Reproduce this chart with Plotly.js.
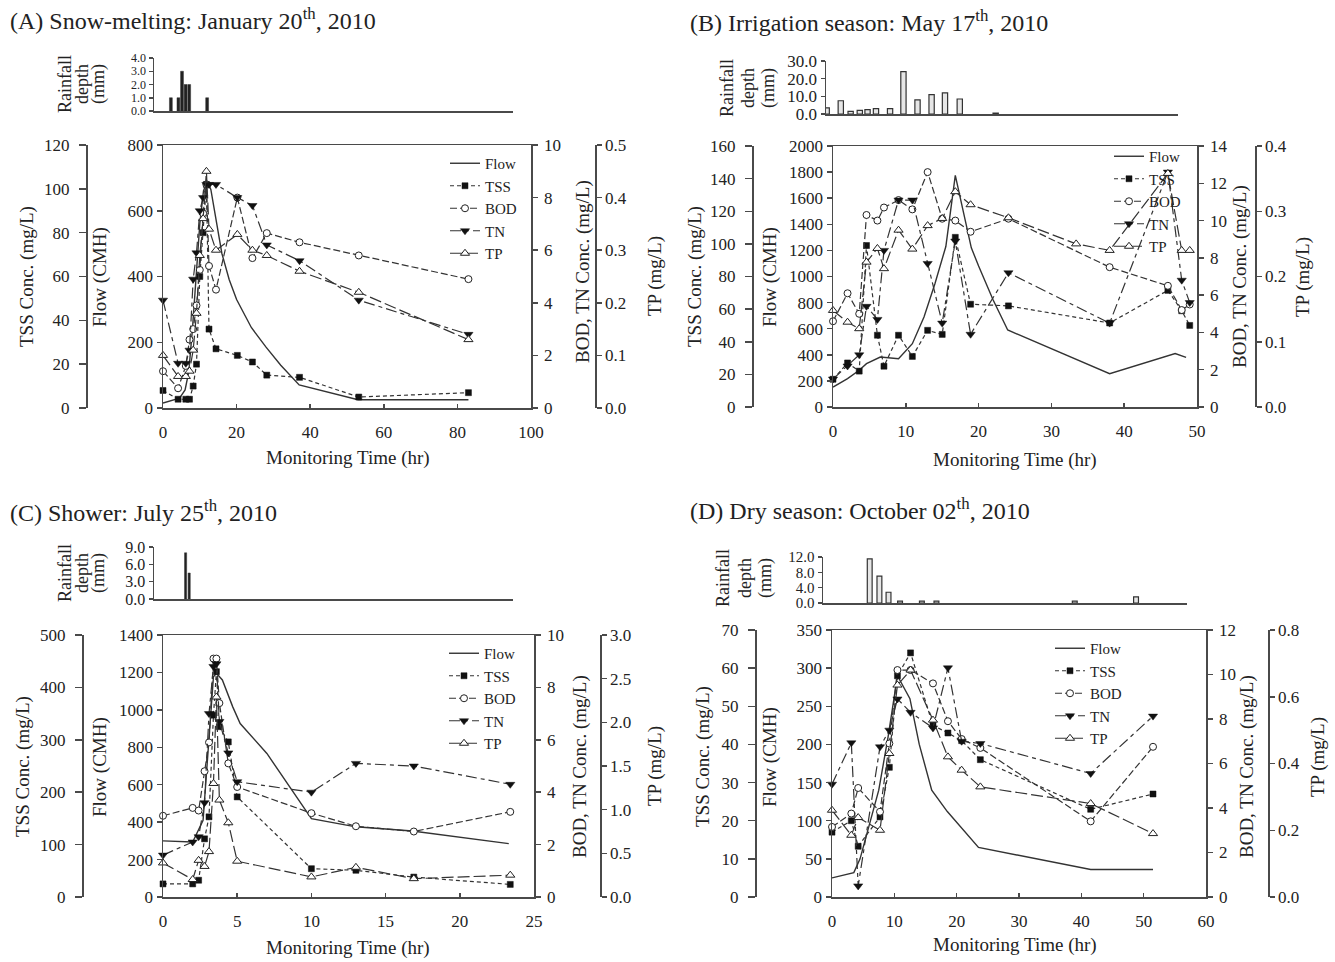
<!DOCTYPE html>
<html><head><meta charset="utf-8">
<script src="https://cdn.plot.ly/plotly-3.0.1.min.js"></script>
<style>html,body{margin:0;padding:0;background:#fff;}#chart{width:1335px;height:962px;}</style>
</head><body><div id="chart"></div>
<script>
// ---------------- DATA ----------------
// (A) Snow-melting
const rainA_t = [4.7, 6.8, 7.8, 8.8, 9.8, 14.8];
const rainA_mm = [1.0, 1.0, 3.0, 2.0, 2.0, 1.0];
const flowA_t = [0, 4.5, 6, 7, 8, 9, 10, 11, 12, 13, 14, 16, 18, 20, 24, 28, 32, 37, 53, 83];
const flowA = [15, 30, 55, 110, 240, 400, 560, 660, 690, 665, 600, 470, 390, 330, 245, 185, 130, 70, 25, 25];
const wqA_t = [0, 4.1, 6.2, 7.2, 8.2, 9.1, 10, 10.9, 11.8, 12.5, 14.4, 20.2, 24.3, 28.2, 37.1, 53.2, 83];
const tssA = [8, 4, 4, 4, 10, 20, 60, 80, 102, 36, 27, 24, 21, 15, 14, 5, 7];
const bodA = [1.4, 0.75, 1.6, 2.6, 3.0, 3.9, 5.25, 7.4, 8.5, 5.4, 4.5, 8.0, 5.7, 6.65, 6.3, 5.8, 4.9];
const tnA = [4.1, 1.7, 1.7, 2.2, 4.9, 5.9, 7.5, 8.0, 8.5, 8.5, 8.5, 8.0, 7.7, 6.2, 5.6, 4.1, 2.8];
const tpA = [0.10, 0.06, 0.06, 0.07, 0.11, 0.18, 0.29, 0.36, 0.45, 0.34, 0.30, 0.33, 0.30, 0.29, 0.26, 0.22, 0.13];

// (B) Irrigation season
const rainB_t = [0.1, 2.1, 3.5, 4.8, 5.9, 7.1, 9.1, 11.0, 13.0, 15.0, 16.9, 19.0, 24.1];
const rainB_mm = [3.5, 7.5, 1.5, 2.0, 2.5, 3.0, 3.0, 24.0, 8.0, 11.0, 12.0, 8.5, 0.5];
const flowB_t = [0, 2, 3.6, 4.6, 6.5, 9, 10.9, 12.5, 14, 15.5, 16.8, 19, 20, 22, 24, 38, 47, 48.5];
const flowB = [153, 217, 281, 332, 383, 370, 485, 690, 945, 1230, 1775, 1220, 1080, 820, 590, 255, 410, 380];
const wqB_t = [0, 2, 3.6, 4.6, 6.1, 7, 9, 10.9, 13, 15, 16.8, 18.9, 24.1, 38, 46, 47.9, 49];
const tssB = [17, 27, 22, 99, 44, 25, 44, 31, 47, 44.5, 104, 63, 62, 51.5, 71.5, 59, 50];
const bodB = [4.6, 6.1, 5.0, 10.3, 10.0, 10.7, 11.1, 10.6, 12.6, 10.1, 10.0, 9.4, 10.1, 7.5, 6.5, 5.2, 5.5];
const tnB = [1.5, 2.2, 2.8, 5.4, 4.7, 8.4, 11.1, 11.1, 7.7, 4.5, 8.9, 3.9, 7.2, 4.5, 12.6, 6.8, 5.6];
const tpB_t = [0, 2, 3.6, 4.6, 6.1, 7, 9, 10.9, 13, 15, 16.8, 18.9, 24.1, 33.4, 38, 46, 47.9, 49];
const tpB = [0.148, 0.130, 0.12, 0.222, 0.243, 0.212, 0.271, 0.242, 0.278, 0.289, 0.33, 0.31, 0.29, 0.25, 0.24, 0.358, 0.24, 0.24];

// (C) Shower
const rainC_t = [2.2, 2.45];
const rainC_mm = [8.0, 4.5];
const flowC_t = [0, 2, 2.7, 3.1, 3.4, 3.6, 4, 4.7, 5.2, 7, 10, 13, 16.8, 23.3];
const flowC = [300, 294, 410, 856, 1177, 1195, 1160, 1016, 927, 767, 419, 375, 353, 285];
const wqC_t = [0, 2.0, 2.4, 2.8, 3.1, 3.4, 3.6, 3.8, 4.4, 5.0, 10, 13, 16.9, 23.4];
const tssC = [25, 25, 32, 111, 153, 347, 430, 325, 296, 191, 54, 51, 38, 24];
const bodC = [3.1, 3.4, 3.3, 4.8, 5.9, 9.1, 9.1, 7.4, 5.1, 4.2, 3.2, 2.7, 2.5, 3.25];
const tnC = [1.6, 2.1, 2.3, 3.6, 7.0, 8.8, 8.9, 6.7, 5.5, 4.4, 4.0, 5.1, 5.0, 4.3];
const tpC = [0.39, 0.2, 0.42, 0.35, 0.52, 1.3, 2.29, 1.11, 0.85, 0.41, 0.23, 0.34, 0.21, 0.25];

// (D) Dry season
const rainD_t = [7.7, 9.3, 10.8, 12.7, 16.3, 18.7, 41.5, 51.6];
const rainD_mm = [11.5, 7.0, 2.8, 0.5, 0.5, 0.5, 0.5, 1.6];
const flowD_t = [0, 3.5, 4.5, 6, 7.5, 9, 10.5, 12.5, 14, 16, 18.5, 23.5, 41.5, 51.5];
const flowD = [25, 32, 50, 95, 140, 210, 290, 260, 200, 140, 112, 65, 36, 36];
const wqD_t = [0, 3.1, 4.2, 7.7, 9.2, 10.5, 12.6, 16.2, 18.6, 20.8, 23.8, 41.5, 51.5];
const tssD = [17, 20, 13.3, 21, 34, 58, 64, 45, 43, 41, 36, 23, 27];
const bodD = [3.15, 3.75, 4.9, 3.83, 6.9, 10.2, 10.2, 9.6, 7.9, 7.1, 6.7, 3.4, 6.75];
const tnD = [5.07, 6.93, 0.5, 6.75, 7.5, 8.9, 8.3, 7.6, 10.3, 7.0, 6.9, 5.55, 8.13];
const tpD = [0.26, 0.185, 0.238, 0.2, 0.43, 0.635, 0.68, 0.53, 0.42, 0.38, 0.33, 0.28, 0.19];

const seriesNames = ['Flow', 'TSS', 'BOD', 'TN', 'TP'];
const panelTitles = [
  '(A) Snow-melting: January 20<sup>th</sup>, 2010',
  '(B) Irrigation season: May 17<sup>th</sup>, 2010',
  '(C) Shower: July 25<sup>th</sup>, 2010',
  '(D) Dry season: October 02<sup>th</sup>, 2010'
];
const titleTSS = 'TSS Conc. (mg/L)';
const titleFlow = 'Flow (CMH)';
const titleBOD = 'BOD, TN Conc. (mg/L)';
const titleTP = 'TP (mg/L)';
const titleX = 'Monitoring Time (hr)';
const rainLines = ['Rainfall', 'depth', '(mm)'];

// ---------------- LAYOUT HELPERS ----------------
const W = 1335, H = 962;
const fx = v => v / W;
const fy = v => 1 - v / H;
const FONT = '"Liberation Serif", "Times New Roman", serif';
const INK = '#222';
const AX = '#4a4a4a';
const TICKF = {family: FONT, size: 17, color: INK};

const traces = [];
const layout = {
  width: W, height: H, margin: {l: 0, r: 0, t: 0, b: 0},
  paper_bgcolor: '#fff', plot_bgcolor: 'rgba(0,0,0,0)',
  font: {family: FONT, size: 17, color: INK},
  showlegend: true, annotations: []
};
const ak = (l, n) => l + 'axis' + (n === 1 ? '' : n);
const yAx = extra => Object.assign({
  showline: true, linecolor: AX, linewidth: 1.5, ticks: 'outside', ticklen: 5,
  tickwidth: 1.5, tickcolor: AX, showgrid: false, zeroline: false, tickfont: TICKF, fixedrange: true
}, extra);
function ann(text, x, y, size, angle, xanchor) {
  layout.annotations.push({
    text: text, x: fx(x), y: fy(y), xref: 'paper', yref: 'paper', showarrow: false,
    font: {family: FONT, size: size, color: INK}, textangle: angle || 0,
    xanchor: xanchor || 'center', yanchor: 'middle'
  });
}

function panel(p) {
  const n = p.idx;
  const rxN = 2 * n + 1, mxN = 2 * n + 2;
  const ryN = 5 * n + 1, flN = 5 * n + 2, tsN = 5 * n + 3, boN = 5 * n + 4, tpN = 5 * n + 5;
  const legId = n === 0 ? 'legend' : 'legend' + (n + 1);

  layout[ak('x', rxN)] = {
    domain: [fx(p.rain.x0), fx(p.rain.x1)], range: [0, p.xMax], anchor: 'y' + ryN,
    showline: true, linecolor: AX, linewidth: 1.5, ticks: '', showticklabels: false,
    showgrid: false, zeroline: false, fixedrange: true
  };
  layout[ak('y', ryN)] = yAx({
    domain: [fy(p.rain.y1), fy(p.rain.y0)], range: [0, p.rainMax], dtick: p.rainMax / (p.rainTicks),
    tickformat: '.1f', anchor: 'x' + rxN, ticklen: 4,
    tickfont: {family: FONT, size: p.rainFont, color: INK}
  });
  layout[ak('x', mxN)] = {
    domain: [fx(p.main.x0), fx(p.main.x1)], range: [0, p.xMax], dtick: p.xDtick, anchor: 'y' + flN,
    showline: true, mirror: true, linecolor: AX, linewidth: 1.5, ticks: 'inside', ticklen: 4,
    tickwidth: 1.5, tickcolor: AX, tickfont: TICKF, ticklabelstandoff: 8,
    showgrid: false, zeroline: false, fixedrange: true
  };
  layout[ak('y', flN)] = yAx({
    domain: [fy(p.main.y1), fy(p.main.y0)], range: [0, p.flowMax], dtick: p.flowDtick, anchor: 'x' + mxN
  });
  layout[ak('y', tsN)] = yAx({
    overlaying: 'y' + flN, anchor: 'free', position: fx(p.tssX), side: 'left',
    range: [0, p.tssMax], dtick: p.tssDtick, ticklen: 7, ticklabelstandoff: 6
  });
  layout[ak('y', boN)] = yAx({
    overlaying: 'y' + flN, anchor: 'x' + mxN, side: 'right', range: [0, p.bodMax], dtick: p.bodDtick,
    ticklabelstandoff: 3
  });
  layout[ak('y', tpN)] = yAx({
    overlaying: 'y' + flN, anchor: 'free', position: fx(p.tpX), side: 'right',
    range: [0, p.tpMax], dtick: p.tpDtick, tickformat: '.1f'
  });

  // rainfall bars
  traces.push({
    type: 'bar', x: p.d.rt, y: p.d.rv, xaxis: 'x' + rxN, yaxis: 'y' + ryN, width: p.barW,
    marker: {color: p.barFill, line: {color: '#333', width: p.barLine}}, showlegend: false, hoverinfo: 'skip'
  });
  const common = {xaxis: 'x' + mxN, legend: legId, cliponaxis: false};
  traces.push(Object.assign({
    x: p.d.ft, y: p.d.fv, yaxis: 'y' + flN, mode: 'lines', name: seriesNames[0],
    line: {color: '#333', width: 1.4}
  }, common));
  traces.push(Object.assign({
    x: p.d.wt, y: p.d.tss, yaxis: 'y' + tsN, mode: 'lines+markers', name: seriesNames[1],
    line: {color: '#333', width: 1.2, dash: '4px,3px'},
    marker: {symbol: 'square', size: 6, color: '#111', line: {color: '#111', width: 0.5}}
  }, common));
  traces.push(Object.assign({
    x: p.d.wt, y: p.d.bod, yaxis: 'y' + boN, mode: 'lines+markers', name: seriesNames[2],
    line: {color: '#333', width: 1.2, dash: '7px,3px'},
    marker: {symbol: 'circle', size: 7, color: '#fff', line: {color: '#222', width: 1}}
  }, common));
  traces.push(Object.assign({
    x: p.d.wt, y: p.d.tn, yaxis: 'y' + boN, mode: 'lines+markers', name: seriesNames[3],
    line: {color: '#333', width: 1.2, dash: '11px,4px,4px,4px'},
    marker: {symbol: 'triangle-down', size: 8, color: '#111', line: {color: '#111', width: 0.5}}
  }, common));
  traces.push(Object.assign({
    x: p.d.tpt || p.d.wt, y: p.d.tp, yaxis: 'y' + tpN, mode: 'lines+markers', name: seriesNames[4],
    line: {color: '#333', width: 1.2, dash: '12px,4px'},
    marker: {symbol: 'triangle-up', size: 8, color: '#fff', line: {color: '#222', width: 1}}
  }, common));

  layout[legId] = {
    x: fx(p.leg.x), xanchor: 'right', y: fy(p.leg.y), yanchor: 'top',
    bgcolor: 'rgba(0,0,0,0)', borderwidth: 0, tracegroupgap: 0,
    font: {family: FONT, size: 15, color: INK}
  };

  // titles
  ann(panelTitles[n], p.title.x, p.title.y, 24, 0, 'left');
  ann(titleTSS, p.lab.tss[0], p.lab.tss[1], 19, -90);
  ann(titleFlow, p.lab.flow[0], p.lab.flow[1], 19, -90);
  ann(titleBOD, p.lab.bod[0], p.lab.bod[1], 19, -90);
  ann(titleTP, p.lab.tp[0], p.lab.tp[1], 19, -90);
  ann(titleX, p.lab.x[0], p.lab.x[1], 19, 0);
  rainLines.forEach((s, i) => ann(s, p.lab.rain[i], p.lab.rainY, 18, -90));
}

panel({
  idx: 0, xMax: 100, xDtick: 20,
  rain: {x0: 154, x1: 513, y0: 58, y1: 111}, rainMax: 4, rainTicks: 4, rainFont: 12,
  barW: 0.8, barFill: '#222', barLine: 0.5,
  main: {x0: 163, x1: 531, y0: 145, y1: 408},
  flowMax: 800, flowDtick: 200, tssMax: 120, tssDtick: 20, bodMax: 10, bodDtick: 2, tpMax: 0.5, tpDtick: 0.1,
  tssX: 86, tpX: 595,
  d: {rt: rainA_t, rv: rainA_mm, ft: flowA_t, fv: flowA, wt: wqA_t, tss: tssA, bod: bodA, tn: tnA, tp: tpA},
  leg: {x: 522, y: 147},
  title: {x: 8, y: 19},
  lab: {tss: [27, 277], flow: [100, 277], bod: [583, 272], tp: [655, 276], x: [348, 458], rain: [65, 82, 98], rainY: 84}
});
panel({
  idx: 1, xMax: 50, xDtick: 10,
  rain: {x0: 826, x1: 1178, y0: 61, y1: 114}, rainMax: 30, rainTicks: 3, rainFont: 17,
  barW: 0.75, barFill: '#e6e6e6', barLine: 1.2,
  main: {x0: 833, x1: 1197, y0: 146, y1: 407},
  flowMax: 2000, flowDtick: 200, tssMax: 160, tssDtick: 20, bodMax: 14, bodDtick: 2, tpMax: 0.4, tpDtick: 0.1,
  tssX: 752, tpX: 1255,
  d: {rt: rainB_t, rv: rainB_mm, ft: flowB_t, fv: flowB, wt: wqB_t, tss: tssB, bod: bodB, tn: tnB, tpt: tpB_t, tp: tpB},
  leg: {x: 1186, y: 140},
  title: {x: 688, y: 21},
  lab: {tss: [695, 277], flow: [770, 277], bod: [1240, 277], tp: [1303, 277], x: [1015, 460], rain: [727, 748, 768], rainY: 88}
});
panel({
  idx: 2, xMax: 25, xDtick: 5,
  rain: {x0: 154, x1: 513, y0: 547, y1: 599}, rainMax: 9, rainTicks: 3, rainFont: 16,
  barW: 0.15, barFill: '#222', barLine: 0.5,
  main: {x0: 163, x1: 534, y0: 635, y1: 897},
  flowMax: 1400, flowDtick: 200, tssMax: 500, tssDtick: 100, bodMax: 10, bodDtick: 2, tpMax: 3, tpDtick: 0.5,
  tssX: 82, tpX: 600,
  d: {rt: rainC_t, rv: rainC_mm, ft: flowC_t, fv: flowC, wt: wqC_t, tss: tssC, bod: bodC, tn: tnC, tp: tpC},
  leg: {x: 521, y: 637},
  title: {x: 8, y: 511},
  lab: {tss: [23, 767], flow: [100, 767], bod: [580, 767], tp: [655, 766], x: [348, 948], rain: [65, 82, 98], rainY: 573}
});
panel({
  idx: 3, xMax: 60, xDtick: 10,
  rain: {x0: 823, x1: 1187, y0: 557, y1: 603}, rainMax: 12, rainTicks: 3, rainFont: 15,
  barW: 0.8, barFill: '#e6e6e6', barLine: 1.2,
  main: {x0: 832, x1: 1206, y0: 630, y1: 897},
  flowMax: 350, flowDtick: 50, tssMax: 70, tssDtick: 10, bodMax: 12, bodDtick: 2, tpMax: 0.8, tpDtick: 0.2,
  tssX: 755, tpX: 1268,
  d: {rt: rainD_t, rv: rainD_mm, ft: flowD_t, fv: flowD, wt: wqD_t, tss: tssD, bod: bodD, tn: tnD, tp: tpD},
  leg: {x: 1127, y: 632},
  title: {x: 688, y: 509},
  lab: {tss: [703, 757], flow: [770, 757], bod: [1247, 767], tp: [1318, 757], x: [1015, 945], rain: [723, 745, 765], rainY: 578}
});

Plotly.newPlot('chart', traces, layout, {staticPlot: true, displayModeBar: false});
</script></body></html>
